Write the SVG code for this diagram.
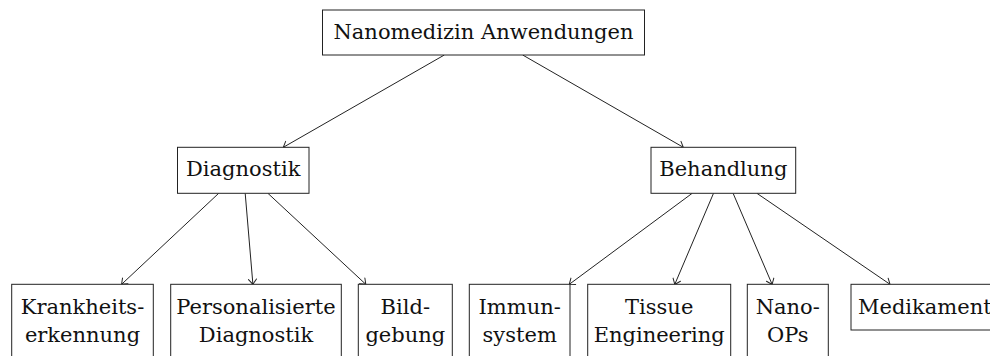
<svg xmlns="http://www.w3.org/2000/svg" width="990" height="356" viewBox="0 0 990 356">
  <style>
    .box { fill: #ffffff; stroke: #222222; stroke-width: 1; }
    .lbl { font-family: "DejaVu Serif", "Liberation Serif", serif; font-size: 21px; fill: #111111; text-anchor: middle; }
    .edge { stroke: #222222; stroke-width: 1; fill: none; marker-end: url(#tip); }
  </style>
  <defs>
    <marker id="tip" markerUnits="userSpaceOnUse" markerWidth="12" markerHeight="12" viewBox="-6 -6 12 12" refX="0" refY="0" orient="auto">
      <path d="M -5,-4 Q -1.2,-1 0,0 Q -1.2,1 -5,4" fill="none" stroke="#222222" stroke-width="1" stroke-linecap="round"/>
    </marker>
  </defs>
  <rect width="990" height="356" fill="#ffffff"/>

  <g id="connectors">
    <line class="edge" x1="444.3" y1="55" x2="283.3" y2="147.3"/>
    <line class="edge" x1="522.7" y1="55" x2="683.3" y2="147.3"/>
    <line class="edge" x1="218.7" y1="193.3" x2="121.6" y2="284.3"/>
    <line class="edge" x1="245.2" y1="193.3" x2="252.9" y2="284.3"/>
    <line class="edge" x1="267.9" y1="193.3" x2="365.8" y2="284.3"/>
    <line class="edge" x1="692.2" y1="193.3" x2="569.3" y2="284.3"/>
    <line class="edge" x1="713.5" y1="193.3" x2="674.8" y2="284.3"/>
    <line class="edge" x1="733.1" y1="193.3" x2="772.1" y2="284.3"/>
    <line class="edge" x1="756.9" y1="193.3" x2="890" y2="284.3"/>
  </g>

  <g id="root">
    <rect class="box" x="322.5" y="10" width="322" height="45"/>
    <text class="lbl" x="483.5" y="38.5">Nanomedizin Anwendungen</text>
  </g>

  <g id="diagnostik">
    <rect class="box" x="177.5" y="147.3" width="131.5" height="46"/>
    <text class="lbl" x="243.2" y="176">Diagnostik</text>
  </g>

  <g id="behandlung">
    <rect class="box" x="651" y="147.3" width="144.7" height="46"/>
    <text class="lbl" x="723.3" y="176">Behandlung</text>
  </g>

  <g id="krankheitserkennung">
    <rect class="box" x="11.7" y="284.3" width="141.6" height="80"/>
    <text class="lbl" x="82.5" y="314">Krankheits-</text>
    <text class="lbl" x="82.5" y="341.7">erkennung</text>
  </g>

  <g id="personalisierte-diagnostik">
    <rect class="box" x="170.7" y="284.3" width="170.6" height="80"/>
    <text class="lbl" x="256" y="314">Personalisierte</text>
    <text class="lbl" x="256" y="341.7">Diagnostik</text>
  </g>

  <g id="bildgebung">
    <rect class="box" x="358.3" y="284.3" width="94" height="80"/>
    <text class="lbl" x="405.3" y="314">Bild-</text>
    <text class="lbl" x="405.3" y="341.7">gebung</text>
  </g>

  <g id="immunsystem">
    <rect class="box" x="469.3" y="284.3" width="100.7" height="80"/>
    <text class="lbl" x="519.7" y="314">Immun-</text>
    <text class="lbl" x="519.7" y="341.7">system</text>
  </g>

  <g id="tissue-engineering">
    <rect class="box" x="587.7" y="284.3" width="143" height="80"/>
    <text class="lbl" x="659.2" y="314">Tissue</text>
    <text class="lbl" x="659.2" y="341.7">Engineering</text>
  </g>

  <g id="nano-ops">
    <rect class="box" x="747.3" y="284.3" width="81" height="80"/>
    <text class="lbl" x="787.8" y="314">Nano-</text>
    <text class="lbl" x="787.8" y="341.7">OPs</text>
  </g>

  <g id="medikamente">
    <rect class="box" x="851" y="284.3" width="160" height="45.7"/>
    <text class="lbl" x="858" y="314" style="text-anchor:start">Medikament</text>
  </g>
</svg>
